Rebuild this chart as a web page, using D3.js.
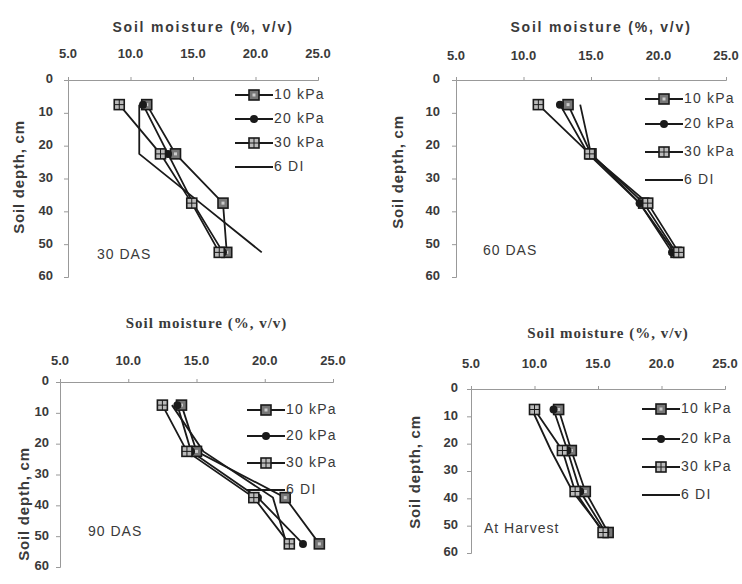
<!DOCTYPE html>
<html>
<head>
<meta charset="utf-8">
<script src="https://cdn.jsdelivr.net/npm/d3@7"></script>
<style>
  body { margin: 0; background: #fff; }
  svg { display: block; }
</style>
</head>
<body>
<svg id="chart" width="742" height="584"></svg>
<script>
// depths (cm) where moisture was sampled
const depths = [7.5, 22.5, 37.5, 52.5];
const seriesNames = ["10 kPa", "20 kPa", "30 kPa", "6 DI"];
const xTicks = [5, 10, 15, 20, 25];
const yTicks = [0, 10, 20, 30, 40, 50, 60];

// soil moisture (%, v/v) per series, by depth
const das30 = [
  [11.3, 13.6, 17.4, 17.7],
  [11.0, 13.0, 15.0, 17.4],
  [9.1, 12.4, 14.9, 17.1],
  [10.7, 10.7, 15.6, 20.5]
];
const das60 = [
  [13.3, 15.0, 18.9, 21.3],
  [12.7, 14.8, 18.6, 21.0],
  [11.1, 14.9, 19.2, 21.5],
  [14.2, 15.0, 18.6, 21.2]
];
const das90 = [
  [13.9, 15.0, 21.5, 24.0],
  [13.6, 14.6, 19.5, 22.8],
  [12.5, 14.3, 19.2, 21.8],
  [13.2, 15.5, 20.6, 21.6]
];
const atHarvest = [
  [11.9, 12.9, 14.0, 15.8],
  [11.5, 12.6, 13.6, 15.6],
  [10.0, 12.2, 13.2, 15.4],
  [9.8, 11.3, 13.0, 15.5]
];

const panels = [
  { data: das30, label: "30 DAS", x: [68, 318], y: [80, 277], titleY: 28, tickY: 55, serif: false,
    ytitle: [20, 177], ygap: 15, labelAt: [97, 255], legX: 235, legY: [95, 119, 143, 167] },
  { data: das60, label: "60 DAS", x: [456, 726], y: [80, 277], titleY: 28, tickY: 57, serif: false,
    ytitle: [399, 172], ygap: 16, labelAt: [483, 251], legX: 645, legY: [99, 124, 152, 180] },
  { data: das90, label: "90 DAS", x: [60, 333], y: [382, 567], titleY: 325, tickY: 362, serif: true,
    ytitle: [25, 504], ygap: 11, labelAt: [88, 532], legX: 247, legY: [410, 436, 463, 490] },
  { data: atHarvest, label: "At Harvest", x: [471, 725], y: [389, 553], titleY: 335, tickY: 365, serif: true,
    ytitle: [416, 472], ygap: 13, labelAt: [484, 529], legX: 642, legY: [409, 439, 467, 495] }
];

const svg = d3.select("#chart");
const ink = "#1a1a1a";
const textCol = "#3a3a3a";
const sans = "Arial, 'Liberation Sans', sans-serif";
const serif = "'Liberation Serif', 'Times New Roman', serif";

function drawMarker(g, name, cx, cy) {
  if (name === "10 kPa") {
    g.append("rect").attr("x", cx - 5).attr("y", cy - 5).attr("width", 10).attr("height", 10)
      .attr("fill", "#777").attr("stroke", ink).attr("stroke-width", 1.6);
    g.append("rect").attr("x", cx - 1.5).attr("y", cy - 1.5).attr("width", 3).attr("height", 3)
      .attr("fill", "#ccc");
  } else if (name === "20 kPa") {
    g.append("circle").attr("cx", cx).attr("cy", cy).attr("r", 4).attr("fill", ink);
  } else if (name === "30 kPa") {
    g.append("rect").attr("x", cx - 5).attr("y", cy - 5).attr("width", 10).attr("height", 10)
      .attr("fill", "#bbb").attr("stroke", ink).attr("stroke-width", 1.6);
    g.append("path").attr("d", `M${cx - 5},${cy}H${cx + 5}M${cx},${cy - 5}V${cy + 5}`)
      .attr("stroke", ink).attr("stroke-width", 1);
  }
}

panels.forEach(p => {
  const x = d3.scaleLinear().domain([5, 25]).range(p.x);
  const y = d3.scaleLinear().domain([0, 60]).range(p.y);
  const g = svg.append("g");

  // axes
  const xAxis = g.append("g").attr("transform", `translate(0,${p.y[0]})`)
    .call(d3.axisTop(x).tickValues(xTicks).tickSize(3).tickFormat(""));
  const yAxis = g.append("g").attr("transform", `translate(${p.x[0]},0)`)
    .call(d3.axisLeft(y).tickValues(yTicks).tickSize(4).tickFormat(""));
  [xAxis, yAxis].forEach(a => {
    a.select(".domain").attr("stroke", "#999");
    a.selectAll(".tick line").attr("stroke", "#999");
  });

  g.selectAll(".xt").data(xTicks).join("text")
    .attr("x", d => x(d)).attr("y", p.tickY).attr("text-anchor", "middle")
    .attr("dominant-baseline", "middle")
    .attr("font-family", sans).attr("font-weight", "bold").attr("font-size", 13)
    .attr("fill", textCol).text(d => d.toFixed(1));
  g.selectAll(".yt").data(yTicks).join("text")
    .attr("x", p.x[0] - p.ygap).attr("y", d => y(d)).attr("text-anchor", "end")
    .attr("dominant-baseline", "middle")
    .attr("font-family", sans).attr("font-weight", "bold").attr("font-size", 13)
    .attr("fill", textCol).text(d => d);

  // titles
  g.append("text")
    .attr("x", (p.x[0] + p.x[1]) / 2 + 10).attr("y", p.titleY)
    .attr("text-anchor", "middle").attr("dominant-baseline", "middle")
    .attr("font-family", p.serif ? serif : sans)
    .attr("font-weight", "bold").attr("font-size", p.serif ? 15 : 14)
    .attr("letter-spacing", p.serif ? 1 : 1.8)
    .attr("fill", textCol).text("Soil moisture (%, v/v)");
  g.append("text")
    .attr("transform", `translate(${p.ytitle[0]},${p.ytitle[1]}) rotate(-90)`)
    .attr("text-anchor", "middle").attr("dominant-baseline", "middle")
    .attr("font-family", sans).attr("font-weight", "bold").attr("font-size", 15)
    .attr("letter-spacing", 0.8)
    .attr("fill", textCol).text("Soil depth, cm");

  // series lines
  const line = d3.line().x(d => x(d[0])).y(d => y(d[1]));
  p.data.forEach(vals => {
    const pts = vals.map((v, j) => [v, depths[j]]);
    g.append("path").attr("d", line(pts)).attr("fill", "none")
      .attr("stroke", ink).attr("stroke-width", 1.8);
  });
  p.data.forEach((vals, i) => {
    vals.forEach((v, j) => drawMarker(g, seriesNames[i], x(v), y(depths[j])));
  });

  // legend
  seriesNames.forEach((name, i) => {
    const ly = p.legY[i];
    g.append("line").attr("x1", p.legX).attr("x2", p.legX + 38).attr("y1", ly).attr("y2", ly)
      .attr("stroke", ink).attr("stroke-width", 1.8);
    drawMarker(g, name, p.legX + 19, ly);
    g.append("text").attr("x", p.legX + 39).attr("y", ly).attr("dominant-baseline", "middle")
      .attr("font-family", sans).attr("font-size", 14).attr("letter-spacing", 1.2)
      .attr("fill", textCol).text(name);
  });

  g.append("text").attr("x", p.labelAt[0]).attr("y", p.labelAt[1]).attr("dominant-baseline", "middle")
    .attr("font-family", sans).attr("font-size", 14).attr("letter-spacing", 1)
    .attr("fill", textCol).text(p.label);
});
</script>
</body>
</html>
